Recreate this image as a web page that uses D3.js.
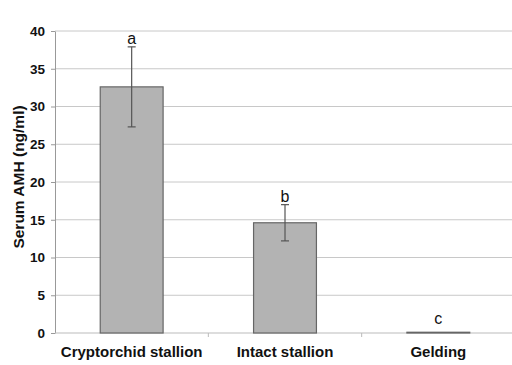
<!DOCTYPE html>
<html>
<head>
<meta charset="utf-8">
<script src="https://cdn.jsdelivr.net/npm/d3@7"></script>
<style>
  body { margin: 0; background: #fff; }
  text { font-family: "Liberation Sans", Arial, sans-serif; }
</style>
</head>
<body>
<script>
const w = 512;
const h = 365;

// data
const groups = ["Cryptorchid stallion", "Intact stallion", "Gelding"];
const means = [32.6, 14.6, 0.1];
const errors = [5.3, 2.4, 0];
const letters = ["a", "b", "c"];
const yTicks = [0, 5, 10, 15, 20, 25, 30, 35, 40];

const margin = { top: 31, right: -3, bottom: 32, left: 55 };

const svg = d3
  .select("body")
  .append("svg")
  .attr("width", w)
  .attr("height", h);

const x = d3
  .scaleBand()
  .domain(groups)
  .range([margin.left, w - margin.right])
  .paddingInner(0.59)
  .paddingOuter(0.295);

const y = d3
  .scaleLinear()
  .domain([0, 40])
  .range([h - margin.bottom, margin.top]);

// grid lines
svg
  .append("g")
  .selectAll("line")
  .data(yTicks.slice(1))
  .enter()
  .append("line")
  .attr("x1", margin.left)
  .attr("x2", w)
  .attr("y1", d => y(d))
  .attr("y2", d => y(d))
  .attr("stroke", "#c8c8c8")
  .attr("stroke-width", 1);

// y axis
const yAxis = svg
  .append("g")
  .attr("transform", "translate(" + margin.left + ",0)")
  .call(d3.axisLeft(y).tickValues(yTicks).tickSize(4).tickSizeOuter(0).tickPadding(6));
yAxis.select(".domain").attr("stroke", "#999");
yAxis.selectAll(".tick line").attr("stroke", "#999");
yAxis
  .selectAll("text")
  .style("font-size", "13.5px")
  .style("font-weight", "bold")
  .attr("fill", "#111");

// x axis
const xAxis = svg
  .append("g")
  .attr("transform", "translate(0," + y(0) + ")");
xAxis
  .append("line")
  .attr("x1", margin.left)
  .attr("x2", w)
  .attr("stroke", "#bbb");
xAxis
  .selectAll(".sep")
  .data(groups.slice(1))
  .enter()
  .append("line")
  .attr("class", "sep")
  .attr("x1", d => x(d) - (x.step() - x.bandwidth()) / 2)
  .attr("x2", d => x(d) - (x.step() - x.bandwidth()) / 2)
  .attr("y1", 0)
  .attr("y2", 4)
  .attr("stroke", "#bbb");
xAxis
  .selectAll(".lab")
  .data(groups)
  .enter()
  .append("text")
  .attr("class", "lab")
  .attr("x", d => x(d) + x.bandwidth() / 2)
  .attr("y", 24)
  .attr("text-anchor", "middle")
  .style("font-size", "15px")
  .style("font-weight", "bold")
  .attr("fill", "#111")
  .text(d => d);

// bars
svg
  .append("g")
  .selectAll("rect")
  .data(groups)
  .enter()
  .append("rect")
  .attr("x", d => x(d))
  .attr("width", x.bandwidth())
  .attr("y", (d, i) => y(means[i]))
  .attr("height", (d, i) => y(0) - y(means[i]))
  .attr("fill", "#b3b3b3")
  .attr("stroke", "#666")
  .attr("stroke-width", 1.2);

// error bars
const err = svg.append("g").attr("stroke", "#555").attr("stroke-width", 1.2);
groups.forEach(function(g, i) {
  if (!errors[i]) return;
  const cx = x(g) + x.bandwidth() / 2;
  err.append("line")
    .attr("x1", cx).attr("x2", cx)
    .attr("y1", y(means[i] + errors[i]))
    .attr("y2", y(means[i] - errors[i]));
  [means[i] + errors[i], means[i] - errors[i]].forEach(function(v) {
    err.append("line")
      .attr("x1", cx - 4).attr("x2", cx + 4)
      .attr("y1", y(v)).attr("y2", y(v));
  });
});

// significance letters
svg
  .append("g")
  .selectAll("text")
  .data(groups)
  .enter()
  .append("text")
  .attr("x", d => x(d) + x.bandwidth() / 2)
  .attr("y", (d, i) => y(means[i] + errors[i]) - (errors[i] ? 3 : 8))
  .attr("text-anchor", "middle")
  .style("font-size", "16px")
  .attr("fill", "#111")
  .text((d, i) => letters[i]);

// y axis title
svg
  .append("text")
  .attr("transform", "translate(24," + (y(20) - 5) + ") rotate(-90)")
  .attr("text-anchor", "middle")
  .style("font-size", "15.5px")
  .style("font-weight", "bold")
  .attr("fill", "#111")
  .text("Serum AMH (ng/ml)");
</script>
</body>
</html>
